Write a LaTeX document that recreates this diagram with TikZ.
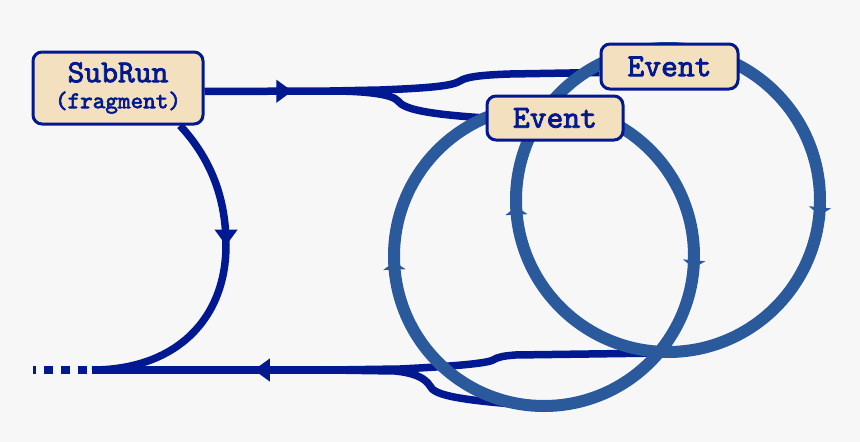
\documentclass[tikz,border=0pt]{standalone}
\usepackage{fontspec}
\newfontfamily\boxfont[FakeBold=2.5]{lmmono10-regular.otf}
\usetikzlibrary{arrows.meta, decorations.markings, backgrounds}
\definecolor{runblue}{RGB}{0,24,144}
\definecolor{loopblue}{RGB}{42,90,155}
\definecolor{boxfill}{RGB}{242,224,190}
\definecolor{canvas}{RGB}{247,247,248}

\begin{document}
\begin{tikzpicture}[
  x=1pt, y=-1pt,
  box/.style={draw=runblue, line width=3pt, fill=boxfill, rounded corners=9pt,
              text=runblue, inner sep=0pt,
              font=\boxfont\fontsize{32}{26}\selectfont},
  flow/.style={draw, runblue, line width=7.5pt},
  ring/.style={draw, loopblue, line width=12pt},
  flowtip/.style={postaction={decorate, decoration={markings,
              mark=at position #1 with {\arrow{Triangle[length=16pt, width=22pt]}}}}},
  ringtip/.style={postaction={decorate, decoration={markings,
              mark=at position #1 with {\arrow{Triangle[length=8pt, width=22pt]}}}}}]
  \useasboundingbox (0,0) rectangle (860,442);
  \node[box, minimum width=170pt, minimum height=72pt, align=center] (subrun)
    at (118,88) {SubRun\\{\fontsize{24}{26}\selectfont (fragment)}};
  \node[box, minimum width=137pt, minimum height=45pt] (evtop) at (669.5,66.5) {Event};
  \node[box, minimum width=136pt, minimum height=44pt] (evlow) at (555,118) {Event};
  \begin{scope}[on background layer]
    \fill[canvas] (0,0) rectangle (860,442);
    \coordinate (topfork) at (330,91);
    \coordinate (lowfork) at (330,370);
    \coordinate (rejoin) at (92,370);
    \coordinate (cl) at (544,256);
    \coordinate (cr) at (668,200);
    \coordinate (clbot) at (540,406);
    \coordinate (crbot) at (662,353);
    % SubRun out to the two events
    \draw[flow, flowtip=0.70] ([yshift=-3.5pt]subrun.east) -- (topfork);
    \draw[flow] (topfork) -- (380,90) .. controls (430,88) and (452,86) .. (460,81)
      .. controls (466,77) and (480,75) .. (510,74) -- ([yshift=-6pt]evtop.west);
    \draw[flow] (topfork) .. controls (365,91) and (392,94) .. (398,101)
      .. controls (404,109) and (425,114) .. (evlow.west);
    % SubRun down to the end
    \draw[flow, flowtip=0.39] ([xshift=62pt]subrun.south) .. controls (212,160) and (226,200) .. (226,245)
      .. controls (226,320) and (175,370) .. (rejoin);
    \draw[flow, dash pattern=on 9pt off 8pt] ([xshift=-5pt]rejoin) -- (33,370);
    % events back to the end
    \draw[flow, flowtip=0.32] (lowfork) -- (rejoin);
    \draw[flow] (crbot) -- (515,355) .. controls (503,356) and (498,357) .. (493,360)
      .. controls (486,364) and (440,367) .. (400,369) -- (lowfork);
    \draw[flow] (lowfork) -- (395,371) .. controls (415,373) and (425,378) .. (430,386)
      .. controls (434,394) and (450,400) .. (clbot);
    % event loops
    \draw[ring, ringtip=0.016, ringtip=0.493] (cr) circle[radius=152];
    \draw[ring, ringtip=0.013, ringtip=0.494] (cl) circle[radius=150];
  \end{scope}
\end{tikzpicture}
\end{document}
